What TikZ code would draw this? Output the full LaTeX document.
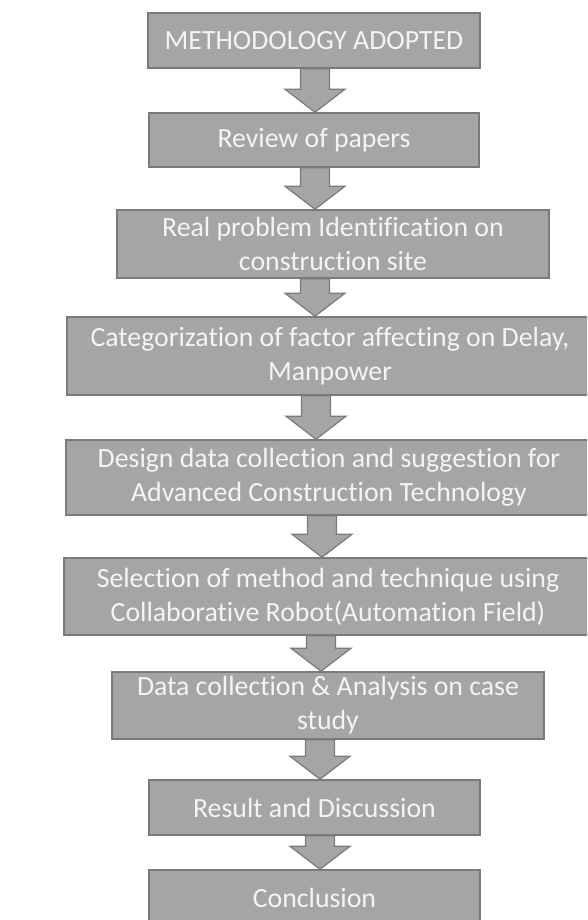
\documentclass[tikz,border=0pt]{standalone}
\usepackage{fontspec}
\setmainfont{Carlito}[RawFeature={-liga;-clig;-dlig}]
\usetikzlibrary{calc,backgrounds}
\definecolor{boxfill}{HTML}{A5A5A5}
\definecolor{boxline}{HTML}{7A7A7A}
\definecolor{boxtext}{HTML}{F4F4F4}
\tikzset{
  stepbox/.style={draw=boxline, line width=1.5pt, fill=boxfill, text=boxtext,
    inner sep=0pt, align=center, font=\fontsize{27.8}{34}\selectfont},
  blk/.style={draw=boxline, line width=1.2pt, fill=boxfill, line join=miter}
}
\newcommand{\blockarrow}[3]{%
  \draw[blk] let \p1=(#1.south), \p2=(#2.north) in
    ({#3*1pt-14.5pt},\y1) -- ({#3*1pt+14.5pt},\y1) -- ({#3*1pt+14.5pt},\y2+23pt)
    -- ({#3*1pt+30pt},\y2+23pt) -- ({#3*1pt},\y2) -- ({#3*1pt-30pt},\y2+23pt)
    -- ({#3*1pt-14.5pt},\y2+23pt) -- cycle;}
\begin{document}
\begin{tikzpicture}[x=1pt,y=-1pt]
\useasboundingbox (0,0) rectangle (587,920);
\clip (0,0) rectangle (587,920);
\node[stepbox, minimum width=332pt, minimum height=55pt] (b1) at (314,40.5) {METHODOLOGY ADOPTED};
\node[stepbox, minimum width=330pt, minimum height=54pt] (b2) at (314,140) {Review of papers};
\node[stepbox, minimum width=432pt, minimum height=68pt] (b3) at (333,244) {Real problem Identification on\\construction site};
\node[stepbox, minimum width=526pt, minimum height=78pt] (b4) at (330,356) {Categorization of factor affecting on Delay,\\Manpower};
\node[stepbox, minimum width=526pt, minimum height=75pt] (b5) at (329,477.5) {Design data collection and suggestion for\\Advanced Construction Technology};
\node[stepbox, minimum width=528pt, minimum height=77pt] (b6) at (328,596.5) {Selection of method and technique using\\Collaborative Robot(Automation Field)};
\node[stepbox, minimum width=432pt, minimum height=67pt] (b7) at (328,705.5) {Data collection \& Analysis on case\\study};
\node[stepbox, minimum width=331pt, minimum height=55pt] (b8) at (314.5,807.5) {Result and Discussion};
\node[stepbox, minimum width=331pt, minimum height=55pt] (b9) at (314.5,897.5) {Conclusion};
\begin{scope}[on background layer]
\blockarrow{b1}{b2}{315}
\blockarrow{b2}{b3}{315}
\blockarrow{b3}{b4}{315}
\blockarrow{b4}{b5}{316}
\blockarrow{b5}{b6}{322}
\blockarrow{b6}{b7}{321}
\blockarrow{b7}{b8}{320}
\blockarrow{b8}{b9}{320}
\end{scope}
\end{tikzpicture}
\end{document}
